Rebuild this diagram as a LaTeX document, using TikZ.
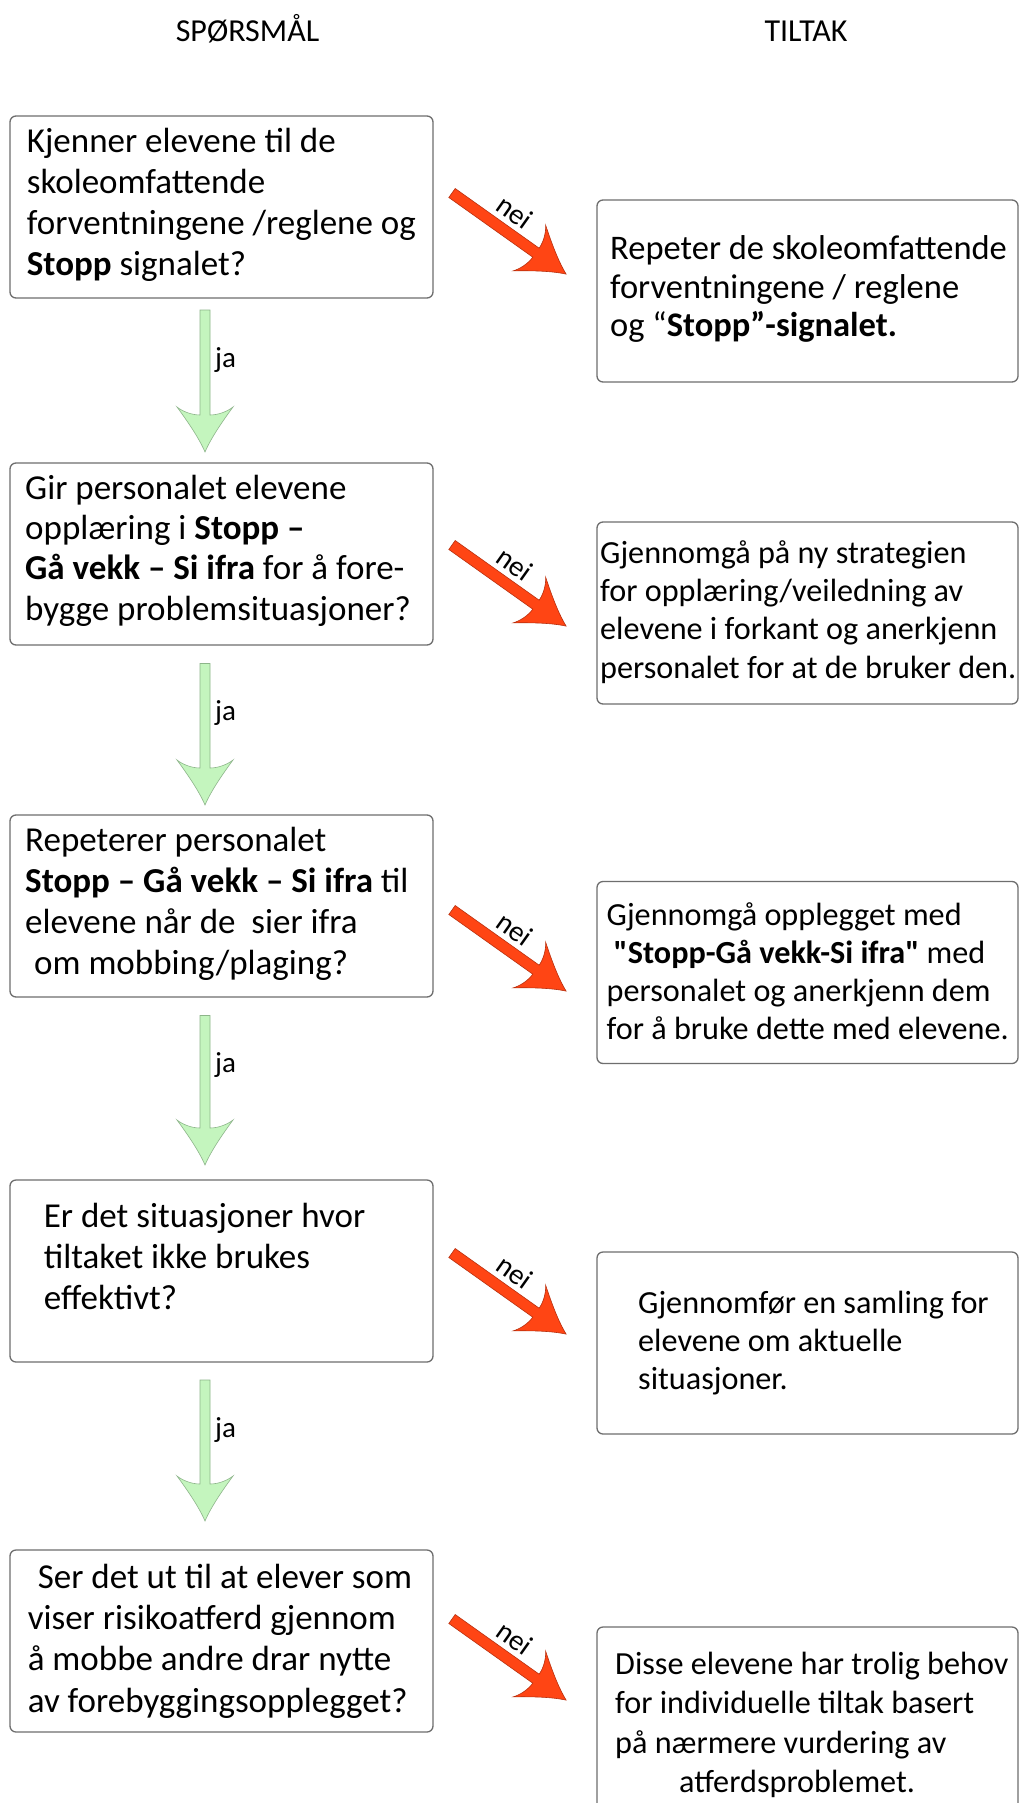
\documentclass[tikz,border=0pt]{standalone}
\usepackage{fontspec}
\setmainfont{Carlito}
\definecolor{boxgray}{HTML}{6E6E6E}
\definecolor{arrred}{HTML}{FF4514}
\definecolor{arrredline}{HTML}{B8300F}
\definecolor{arrgreen}{HTML}{C4F5BE}
\definecolor{arrgreenline}{HTML}{8DB58A}
\newcommand{\fatarrow}[5]{% #1 style, #2 tail coordinate, #3 angle, #4 length, #5 shaft half width
  \begin{scope}[shift={(#2)}, rotate=#3]
    \filldraw[#1] (0,-#5) -- ({#4-37},-#5)
      .. controls ({#4-37},-14) and ({#4-41},-23) .. ({#4-45},-28)
      .. controls ({#4-30},-17) and ({#4-14},-6) .. (#4,0)
      .. controls ({#4-14},6) and ({#4-30},17) .. ({#4-45},28)
      .. controls ({#4-41},23) and ({#4-37},14) .. ({#4-37},#5)
      -- (0,#5) -- cycle;
  \end{scope}}
\tikzset{
  box/.style={draw=boxgray, line width=1.3pt, rounded corners=6pt, fill=white, inner sep=0pt},
  lbox/.style={box, minimum width=423pt, minimum height=182pt},
  rbox/.style={box, minimum width=421pt, minimum height=182pt},
  txt/.style={anchor=base west, inner sep=0pt, align=flush left, text width=440pt},
  hdr/.style={anchor=base, inner sep=0pt, font=\fontsize{32}{38}\selectfont},
  lbl/.style={inner sep=0pt, font=\fontsize{29}{34}\selectfont},
  redarr/.style={fill=arrred, draw=arrredline, line width=0.6pt},
  greenarr/.style={fill=arrgreen, draw=arrgreenline, line width=0.6pt},
}
\begin{document}
\begin{tikzpicture}[x=1pt,y=-1pt]
\useasboundingbox[fill=white] (0,0) rectangle (1019,1803);

% headers
\node[hdr] (hq) at (247.5,41.7) {SPØRSMÅL};
\node[hdr] (ht) at (806,41.7) {TILTAK};

% left boxes
\node[lbox] (l1) at (221.5,207) {};
\node[lbox] (l2) at (221.5,554) {};
\node[lbox] (l3) at (221.5,906) {};
\node[lbox] (l4) at (221.5,1271) {};
\node[lbox] (l5) at (221.5,1641) {};

% right boxes
\node[rbox] (r1) at (807.5,291) {};
\node[rbox] (r2) at (807.5,613) {};
\node[rbox] (r3) at (807.5,972.5) {};
\node[rbox] (r4) at (807.5,1343) {};
\node[rbox] (r5) at (807.5,1718) {};

% left texts
\node[txt, font=\fontsize{35}{40.8}\selectfont] (tl1) at (26.7,152.7)
  {Kjenner elevene til de\\skoleomfattende\\forventningene /reglene og\\\textbf{Stopp} signalet?};
\node[txt, font=\fontsize{35}{40.2}\selectfont] (tl2) at (25,499.5)
  {Gir personalet elevene\\opplæring i \textbf{Stopp –}\\\textbf{Gå vekk – Si ifra} for å fore-\\bygge problemsituasjoner?};
\node[txt, font=\fontsize{35}{41}\selectfont] (tl3) at (25,851)
  {Repeterer personalet\\\textbf{Stopp – Gå vekk – Si ifra} til\\elevene når de\ \ sier ifra\\\hspace*{9pt}om mobbing/plaging?};
\node[txt, font=\fontsize{35}{41.4}\selectfont] (tl4) at (43.7,1227)
  {Er det situasjoner hvor\\tiltaket ikke brukes\\effektivt?};
\node[txt, font=\fontsize{35}{41.4}\selectfont] (tl5) at (27.6,1588)
  {\hspace*{10pt}Ser det ut til at elever som\\viser risikoatferd gjennom\\å mobbe andre drar nytte\\av forebyggingsopplegget?};

% right texts
\node[txt, font=\fontsize{34.5}{38.3}\selectfont] (tr1) at (610,260)
  {Repeter de skoleomfattende\\forventningene / reglene\\og “\textbf{Stopp”-signalet.}};
\node[txt, font=\fontsize{32.2}{38.3}\selectfont] (tr2) at (600,563.3)
  {Gjennomgå på ny strategien\\for opplæring/veiledning av\\elevene i forkant og anerkjenn\\personalet for at de bruker den.};
\node[txt, font=\fontsize{32.2}{38}\selectfont] (tr3) at (606.5,925.5)
  {Gjennomgå opplegget med\\\hspace*{7pt}\textbf{\textquotedbl Stopp-Gå vekk-Si ifra\textquotedbl} med\\personalet og anerkjenn dem\\for å bruke dette med elevene.};
\node[txt, font=\fontsize{32.2}{38}\selectfont] (tr4) at (638,1313)
  {Gjennomfør en samling for\\elevene om aktuelle\\situasjoner.};
\node[txt, font=\fontsize{32.2}{39.5}\selectfont] (tr5) at (615,1674)
  {Disse elevene har trolig behov\\for individuelle tiltak basert\\på nærmere vurdering av\\\hspace*{64pt}atferdsproblemet.};

% green "ja" arrows
\coordinate (g1) at (205,310);
\coordinate (g2) at (205,663.5);
\coordinate (g3) at (205,1015.5);
\coordinate (g4) at (205,1380);
\fatarrow{greenarr}{g1}{-90}{142}{5}
\fatarrow{greenarr}{g2}{-90}{141.5}{5}
\fatarrow{greenarr}{g3}{-90}{149.5}{5}
\fatarrow{greenarr}{g4}{-90}{141}{5}
\node[lbl, anchor=base west] (ja1) at (215,367) {ja};
\node[lbl, anchor=base west] (ja2) at (215,720.5) {ja};
\node[lbl, anchor=base west] (ja3) at (215,1072.5) {ja};
\node[lbl, anchor=base west] (ja4) at (215,1437) {ja};

% red "nei" arrows
\coordinate (n1) at (452,193);
\coordinate (n2) at (452,545);
\coordinate (n3) at (452,910);
\coordinate (n4) at (452,1253);
\coordinate (n5) at (452,1619);
\fatarrow{redarr}{n1}{-35.4}{140}{5.5}
\fatarrow{redarr}{n2}{-35.4}{140}{5.5}
\fatarrow{redarr}{n3}{-35.4}{140}{5.5}
\fatarrow{redarr}{n4}{-35.4}{140}{5.5}
\fatarrow{redarr}{n5}{-35.4}{140}{5.5}
\node[lbl, rotate=-35.4] (nei1) at (515,212) {nei};
\node[lbl, rotate=-35.4] (nei2) at (515,564) {nei};
\node[lbl, rotate=-35.4] (nei3) at (515,929) {nei};
\node[lbl, rotate=-35.4] (nei4) at (515,1272) {nei};
\node[lbl, rotate=-35.4] (nei5) at (515,1638) {nei};
\end{tikzpicture}
\end{document}
